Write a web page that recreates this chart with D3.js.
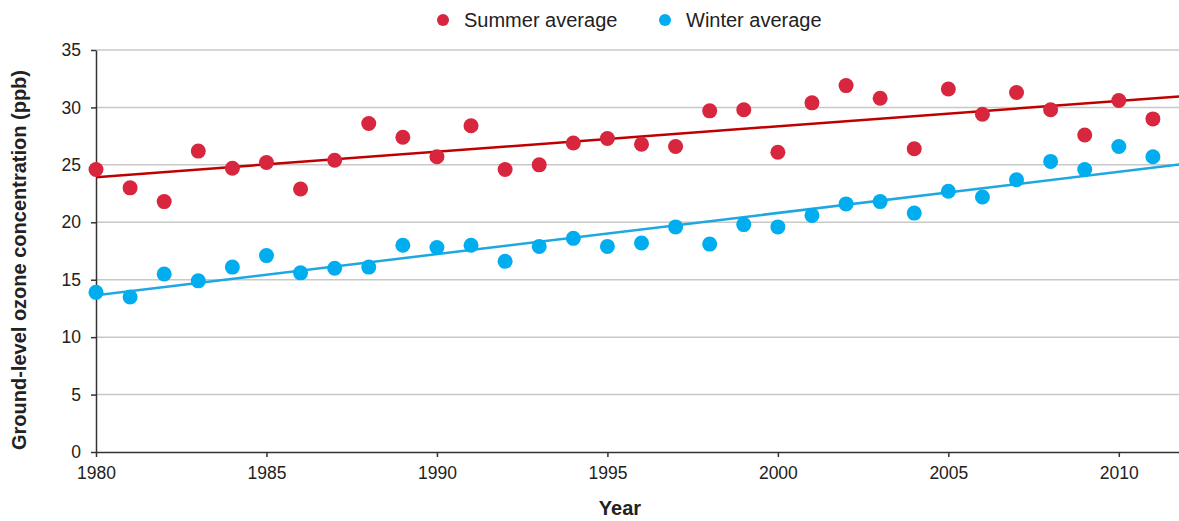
<!DOCTYPE html>
<html><head><meta charset="utf-8">
<script src="https://cdn.jsdelivr.net/npm/d3@7"></script>
<style>body{margin:0;background:#fff}svg{display:block;font-family:"Liberation Sans",Arial,sans-serif}</style>
</head><body><svg id="c" width="1179" height="521"></svg>
<script>
const years = d3.range(1980, 2012);
const summer = [24.6,23.0,21.8,26.2,24.7,25.2,22.9,25.4,28.6,27.4,25.7,28.4,24.6,25.0,26.9,27.3,26.8,26.6,29.7,29.8,26.1,30.4,31.9,30.8,26.4,31.6,29.4,31.3,29.8,27.6,30.6,29.0];
const winter = [13.9,13.5,15.5,14.9,16.1,17.1,15.6,16.0,16.1,18.0,17.8,18.0,16.6,17.9,18.6,17.9,18.2,19.6,18.1,19.8,19.6,20.6,21.6,21.8,20.8,22.7,22.2,23.7,25.3,24.6,26.6,25.7];
const yTicks = [0,5,10,15,20,25,30,35];
const xTicks = [1980,1985,1990,1995,2000,2005,2010];
const seriesNames = ["Summer average","Winter average"];
const dotColors = ["#d7263d","#00aeef"];
const lineColors = ["#c00000","#1ea7e1"];

const svg = d3.select("#c");
const x = d3.scaleLinear().domain([1980, 2012]).range([96, 1187]);
const y = d3.scaleLinear().domain([0, 35]).range([452, 50]);

// grid
svg.append("g").selectAll("line").data(yTicks.filter(d=>d>0)).join("line")
  .attr("x1", 96).attr("x2", 1179).attr("y1", d=>y(d)).attr("y2", d=>y(d))
  .attr("stroke", "#c8c8c8").attr("stroke-width", 1.5);

// y axis
const ya = svg.append("g").attr("transform","translate(96,0)")
  .call(d3.axisLeft(y).tickValues(yTicks).tickSize(5).tickPadding(10).tickSizeOuter(0));
ya.select(".domain").attr("stroke","#333").attr("stroke-width",1.5);
ya.selectAll(".tick line").attr("stroke","#333").attr("stroke-width",1.5);
ya.selectAll("text").attr("font-size",17.5).attr("fill","#222").attr("font-family","Liberation Sans, Arial, sans-serif");

// x axis
const xa = svg.append("g").attr("transform","translate(0,452)")
  .call(d3.axisBottom(x).tickValues(xTicks).tickFormat(d3.format("d")).tickSize(5).tickPadding(10).tickSizeOuter(0));
xa.select(".domain").attr("stroke","#333").attr("stroke-width",1.5);
xa.selectAll(".tick line").attr("stroke","#333").attr("stroke-width",1.5);
xa.selectAll("text").attr("font-size",17.5).attr("fill","#222").attr("font-family","Liberation Sans, Arial, sans-serif");

// regression
function fit(vals){
  const mx = d3.mean(years), my = d3.mean(vals);
  let sxy=0, sxx=0;
  years.forEach((yr,i)=>{sxy+=(yr-mx)*(vals[i]-my); sxx+=(yr-mx)*(yr-mx);});
  const b = sxy/sxx, a = my - b*mx;
  return t => a + b*t;
}
svg.append("clipPath").attr("id","pc").append("rect").attr("x",96).attr("y",40).attr("width",1083).attr("height",413);
[summer, winter].forEach((vals,i)=>{
  const f = fit(vals);
  svg.append("line").attr("clip-path","url(#pc)")
    .attr("x1", x(1980)).attr("y1", y(f(1980)))
    .attr("x2", x(2012)).attr("y2", y(f(2012)))
    .attr("stroke", lineColors[i]).attr("stroke-width", 2.5);
});
[summer, winter].forEach((vals,i)=>{
  svg.append("g").selectAll("circle").data(vals).join("circle")
    .attr("cx",(d,j)=>x(years[j])).attr("cy",d=>y(d)).attr("r",7.5)
    .attr("fill",dotColors[i]);
});

// legend
const lg = svg.append("g");
const lx = [443, 665];
seriesNames.forEach((s,i)=>{
  lg.append("circle").attr("cx",lx[i]).attr("cy",20).attr("r",6).attr("fill",dotColors[i]);
  lg.append("text").attr("x",lx[i]+21).attr("y",27).attr("font-size",20).attr("fill","#222").text(s);
});

// titles
svg.append("text").attr("transform","translate(26,260) rotate(-90)").attr("text-anchor","middle")
  .attr("font-size",20).attr("font-weight","bold").attr("fill","#222").text("Ground-level ozone concentration (ppb)");
svg.append("text").attr("x",620).attr("y",515).attr("text-anchor","middle")
  .attr("font-size",20).attr("font-weight","bold").attr("fill","#222").text("Year");
</script></body></html>
